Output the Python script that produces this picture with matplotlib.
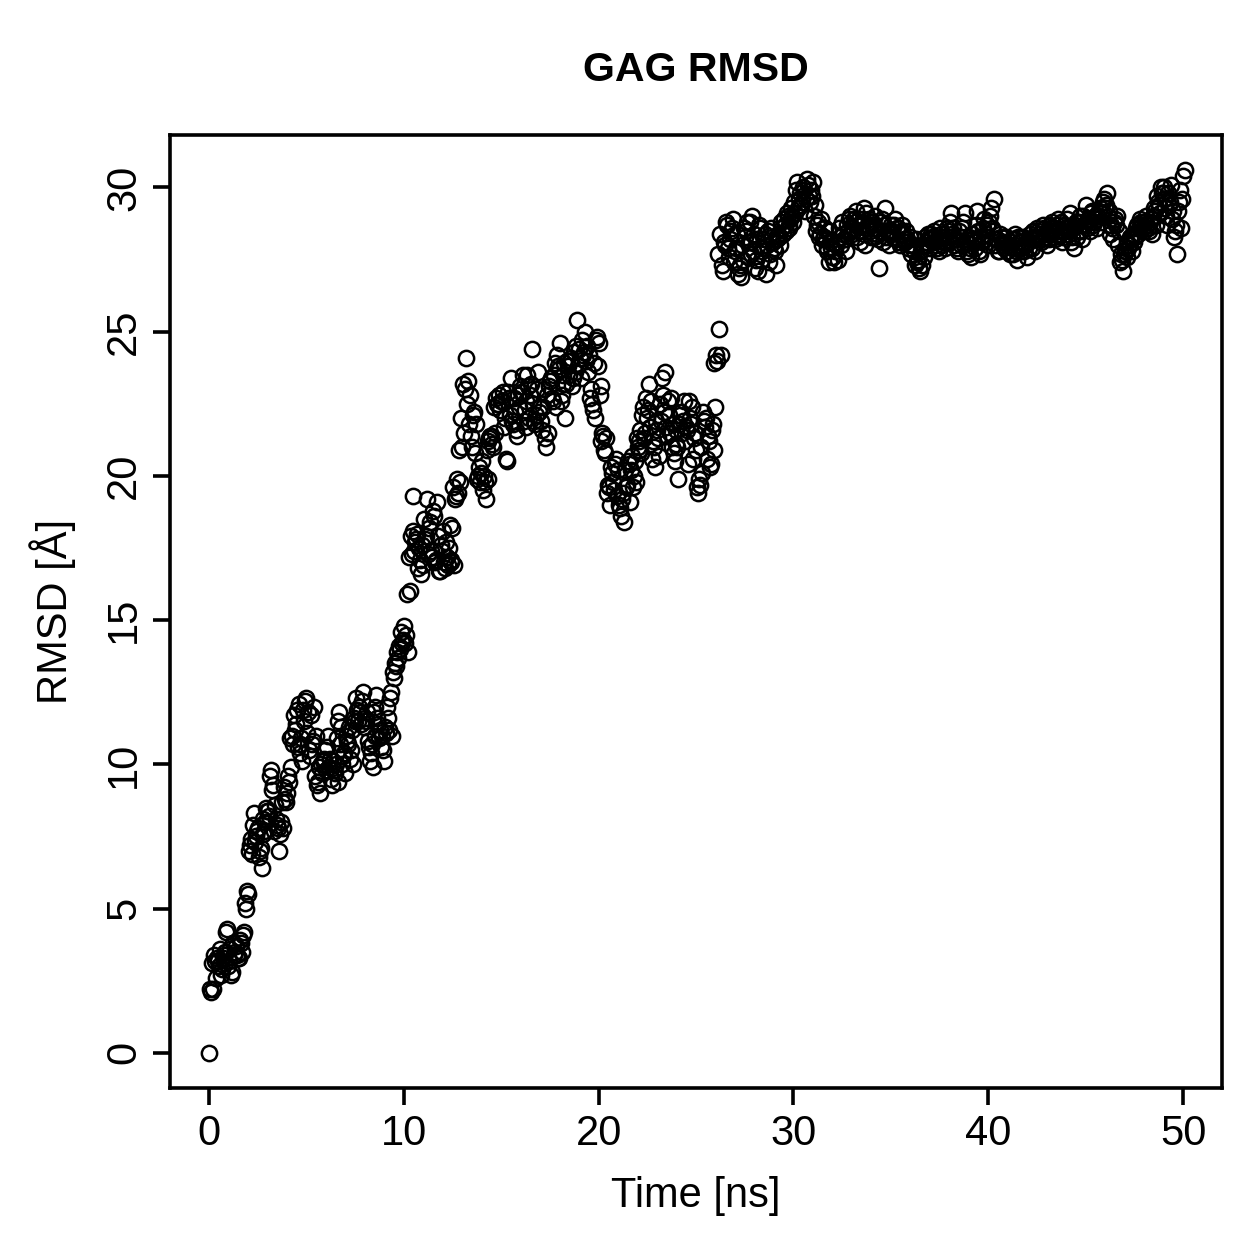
import numpy as np
import matplotlib.pyplot as plt

plt.rc('font', family='Liberation Sans', size=30)

# RMSD values at t = 0.0, 0.1, 0.2 ... 50.0 ns
rmsd_a = [
    0.0,
    2.1, 2.2, 3.2, 3.3, 3.0, 2.7, 3.3, 3.5, 4.2, 3.0,
    3.6, 2.8, 3.4, 3.7, 3.3, 3.9, 3.5, 4.2, 5.0, 5.5,
    7.2, 6.9, 8.3, 7.5, 7.8, 7.0, 6.4, 7.6, 8.0, 8.4,
    8.2, 9.8, 9.3, 8.6, 7.9, 7.0, 8.0, 7.8, 8.8, 9.0,
    9.4, 9.9, 10.7, 11.2, 11.9, 12.1, 10.7, 10.1, 11.5, 12.3,
    11.8, 10.3, 10.7, 12.0, 11.0, 9.4, 9.0, 9.7, 10.2, 9.8,
    11.0, 10.2, 9.3, 9.8, 10.0, 9.4, 11.8, 11.3, 10.3, 9.7,
    10.8, 11.3, 10.5, 10.0, 11.5, 11.9, 12.0, 11.4, 12.5, 11.6,
    11.8, 10.6, 10.4, 9.9, 11.0, 12.4, 11.4, 11.2, 11.0, 10.1,
    11.1, 11.6, 12.3, 11.0, 13.0, 13.4, 13.7, 14.0, 14.2, 14.8,
    14.5, 13.9, 16.0, 17.3, 19.3, 17.7, 18.0, 17.5, 16.6, 16.9,
    17.8, 19.2, 18.2, 17.4, 18.8, 17.0, 19.1, 16.7, 17.6, 18.1,
    16.8, 17.2, 17.5, 17.0, 18.2, 16.9, 19.3, 19.4, 19.8, 21.0,
    21.5, 24.1, 23.3, 22.8, 21.0, 22.2, 21.8, 20.0, 19.8, 20.5,
    20.0, 19.2, 19.9, 21.3, 21.4, 21.0, 21.5, 22.5, 22.8, 22.6,
    22.9, 22.0, 20.5, 22.7, 23.4, 21.8, 22.2, 21.4, 22.4, 22.9,
    23.5, 22.3, 21.7, 23.1, 22.8, 24.4, 21.9, 22.1, 23.6, 22.4,
    21.6, 23.0, 21.0, 21.5, 23.3, 22.7, 23.5, 22.4, 23.8, 24.6,
    22.8, 23.2, 22.0, 24.0, 23.5, 24.1, 23.4, 23.6, 25.4, 24.4,
    23.4, 24.2, 25.0, 24.5, 24.2, 23.0, 22.3, 22.0, 24.8, 24.6,
    23.1, 21.5, 20.9, 21.3, 19.7, 19.0, 20.1, 19.5, 20.6, 20.2,
    18.9, 19.2, 18.4, 19.6, 20.5, 19.1, 20.7, 20.0, 19.8, 21.0,
    21.2, 20.8, 22.4, 21.5, 22.0, 23.2, 22.6, 21.2, 20.3, 21.6,
    20.7, 21.9, 22.8, 23.6, 21.4, 22.1, 22.7, 21.8, 20.5, 21.1,
    19.9, 22.1, 21.5, 22.6, 21.7, 20.4, 22.0, 22.4, 21.3, 20.9,
    19.4, 19.7, 20.1, 21.9, 22.0, 21.4, 20.3, 21.6, 20.9, 22.4,
    24.0, 25.1, 24.2, 27.1, 28.0, 28.7, 27.6, 28.5, 28.9, 27.8,
    28.4, 27.2, 26.9, 27.5, 28.3, 28.8, 28.1, 27.7, 29.0, 28.4,
    27.5, 27.1, 28.6, 27.8, 28.2, 27.0, 28.5, 27.7, 28.3, 27.9,
    27.3, 28.4, 28.0, 28.6, 28.9, 28.5, 29.0, 28.7, 29.3, 28.8,
    29.1, 30.2, 29.6, 29.4, 30.0, 29.2, 30.3, 29.7, 29.9, 30.2,
    29.4, 28.7, 28.3, 28.9, 28.2, 28.6, 27.9, 28.5, 28.1, 27.6,
    27.4, 28.0, 27.5, 28.3, 28.8, 28.2, 27.8, 28.5, 29.0, 28.4,
    28.9, 29.2, 28.5, 28.1, 28.7, 29.3, 28.0, 28.6, 28.9, 28.3,
    28.6, 29.0, 28.4, 27.2, 28.8, 28.1, 29.3, 28.5, 28.0, 28.7,
    28.3, 28.9, 28.6, 28.1, 28.4, 28.7, 28.2, 28.5, 27.9, 28.3,
    28.0, 27.8, 28.2, 27.5, 27.1, 27.3, 27.6, 28.1, 28.4, 27.9,
    28.3, 28.5, 28.0, 28.2, 27.8, 28.4, 28.1, 27.9, 28.6, 28.3,
    29.1, 28.6, 28.2, 27.9, 28.5, 28.0, 28.8, 29.1, 27.8, 28.3,
    27.6, 28.2, 27.9, 29.2, 28.5, 27.7, 28.1, 28.9, 28.4, 28.0,
    29.0, 28.6, 29.6, 28.2, 27.8, 28.4, 28.1, 27.9, 28.3, 28.0,
    27.7, 28.2, 27.9, 28.4, 27.5, 28.1, 27.8, 28.3, 28.0, 27.6,
    27.9, 28.2, 28.5, 27.8, 28.6, 28.3, 28.1, 28.7, 28.4, 28.0,
    28.2, 28.6, 28.8, 28.3, 28.5, 28.9, 28.4, 28.1, 28.7, 28.4,
    28.6, 29.1, 28.3, 27.9, 28.8, 28.5, 29.0, 28.2, 28.7, 29.4,
    28.9, 28.5, 29.1, 28.7, 29.0, 28.6, 29.2, 28.8, 29.5, 29.3,
    29.8, 29.2, 28.7, 28.2, 28.9, 29.0, 28.5, 27.7, 27.1, 27.8,
    27.6, 27.9, 28.3, 27.8, 28.1, 28.6, 28.4, 28.9, 28.7, 28.5,
    29.0, 28.6, 28.8, 28.4, 29.3, 28.7, 29.5, 29.1, 29.8, 30.0,
    29.6, 28.7, 29.4, 30.1, 29.2, 28.5, 27.7, 29.5, 28.6, 30.4,
    30.6,
]

# RMSD values at t = 0.05, 0.15, 0.25 ... 49.95 ns
rmsd_b = [
    2.2, 3.1, 3.4, 2.6, 3.2, 3.6, 2.9, 3.4, 3.1, 4.3,
    3.2, 2.7, 3.8, 3.5, 3.4, 3.3, 3.8, 4.1, 5.2, 5.6,
    7.0, 7.4, 7.9, 7.3, 7.7, 6.8, 7.1, 8.1, 7.7, 8.5,
    8.4, 9.6, 9.1, 7.7, 8.1, 7.8, 7.6, 8.7, 9.2, 8.7,
    9.6, 10.9, 11.0, 11.7, 11.4, 10.6, 10.4, 10.9, 11.9, 12.2,
    11.1, 10.5, 11.7, 10.8, 9.6, 9.3, 9.9, 10.0, 10.1, 10.5,
    10.6, 9.9, 9.5, 10.1, 9.7, 10.9, 11.5, 10.7, 10.0, 10.4,
    11.0, 10.7, 10.2, 11.2, 11.6, 12.3, 11.5, 11.8, 12.2, 11.3,
    11.5, 10.8, 10.1, 10.7, 11.8, 12.0, 11.6, 10.9, 10.6, 10.5,
    11.3, 12.0, 11.2, 12.5, 13.2, 13.5, 13.9, 14.1, 14.6, 14.3,
    14.2, 15.9, 17.2, 17.9, 18.1, 17.4, 17.8, 16.8, 17.1, 17.6,
    18.5, 17.9, 17.3, 18.4, 17.2, 18.6, 17.1, 17.9, 16.7, 17.4,
    17.0, 17.7, 16.9, 18.3, 17.1, 19.6, 19.2, 19.9, 20.9, 22.0,
    23.2, 23.0, 22.5, 21.8, 21.4, 22.1, 20.8, 19.9, 20.3, 20.1,
    19.5, 19.8, 20.9, 21.2, 21.4, 21.1, 22.4, 22.7, 22.5, 22.3,
    22.6, 21.7, 20.6, 22.9, 22.1, 21.9, 22.7, 21.6, 22.8, 23.1,
    22.9, 21.9, 22.6, 23.5, 22.0, 23.2, 22.5, 21.8, 23.0, 22.2,
    21.9, 22.4, 21.3, 22.8, 23.1, 23.4, 22.6, 23.9, 24.2, 23.7,
    22.6, 23.5, 23.9, 23.2, 23.8, 24.0, 23.1, 24.3, 24.5, 23.8,
    24.1, 24.7, 24.3, 24.0, 23.6, 22.7, 22.5, 23.9, 24.7, 23.8,
    22.8, 21.2, 21.4, 20.8, 19.4, 19.6, 20.3, 19.8, 20.4, 19.3,
    19.0, 18.6, 19.4, 20.2, 19.7, 20.4, 20.2, 19.6, 20.5, 21.3,
    20.9, 21.6, 22.1, 21.3, 22.7, 22.3, 21.7, 20.6, 21.0, 21.9,
    21.3, 22.5, 23.4, 22.2, 21.7, 22.6, 21.5, 21.0, 20.8, 21.6,
    21.0, 21.8, 22.2, 21.9, 21.2, 21.6, 22.6, 21.8, 20.6, 21.5,
    19.6, 19.9, 21.0, 22.2, 21.7, 20.6, 21.2, 20.4, 21.8, 23.9,
    24.2, 27.7, 28.4, 27.3, 28.1, 28.8, 27.9, 28.2, 28.6, 27.4,
    27.9, 27.0, 27.3, 28.0, 28.6, 28.5, 27.6, 28.8, 28.1, 27.8,
    27.2, 28.2, 28.7, 27.5, 27.9, 28.4, 28.0, 27.4, 28.6, 28.1,
    27.8, 28.2, 28.3, 28.8, 28.4, 28.7, 29.1, 28.6, 28.9, 29.0,
    29.5, 29.9, 29.3, 29.8, 29.5, 29.9, 29.6, 30.1, 29.5, 29.7,
    29.0, 28.5, 28.8, 28.4, 28.0, 28.3, 28.2, 27.8, 27.4, 27.9,
    27.6, 27.8, 28.1, 28.6, 28.0, 28.4, 28.2, 28.7, 28.9, 28.5,
    28.6, 28.8, 28.3, 28.9, 28.5, 28.9, 28.4, 29.1, 28.7, 28.5,
    28.8, 28.3, 28.6, 28.2, 28.5, 28.9, 28.7, 28.3, 28.5, 28.4,
    28.5, 28.7, 28.2, 28.6, 28.0, 28.5, 28.4, 28.1, 28.2, 28.0,
    27.7, 28.0, 27.3, 27.4, 27.2, 27.8, 28.0, 28.3, 28.0, 28.2,
    28.4, 28.1, 28.3, 27.9, 28.2, 28.6, 28.0, 28.3, 28.1, 28.5,
    28.8, 28.4, 28.0, 28.2, 27.8, 28.3, 28.6, 28.0, 28.1, 27.7,
    27.9, 28.4, 28.1, 28.7, 28.2, 27.8, 28.3, 28.6, 28.2, 28.7,
    28.8, 29.3, 28.5, 28.0, 28.2, 27.8, 28.3, 28.0, 28.1, 27.8,
    28.0, 28.1, 27.7, 28.2, 27.8, 28.3, 27.9, 28.1, 27.8, 28.0,
    28.1, 28.4, 27.9, 28.3, 28.2, 28.5, 28.4, 28.2, 28.6, 28.3,
    28.4, 28.7, 28.5, 28.6, 28.2, 28.7, 28.5, 28.8, 28.3, 28.6,
    28.9, 28.5, 28.1, 28.6, 28.7, 28.3, 28.8, 28.5, 29.0, 28.7,
    28.6, 28.9, 28.8, 29.2, 28.8, 28.9, 29.0, 29.3, 29.1, 29.6,
    29.4, 29.0, 28.4, 28.6, 28.8, 28.7, 28.0, 27.4, 27.5, 27.7,
    27.8, 28.1, 28.0, 28.2, 28.4, 28.3, 28.7, 28.6, 28.8, 28.6,
    28.8, 28.7, 28.5, 28.9, 29.0, 29.2, 29.7, 29.4, 30.0, 29.8,
    29.3, 29.0, 29.8, 29.5, 28.9, 28.3, 28.7, 29.2, 29.9, 29.6,
]

time_a = np.arange(len(rmsd_a)) * 0.1
time_b = np.arange(len(rmsd_b)) * 0.1 + 0.05
time = np.concatenate([time_a, time_b])
rmsd = np.concatenate([rmsd_a, rmsd_b])

xticks = [0, 10, 20, 30, 40, 50]
yticks = [0, 5, 10, 15, 20, 25, 30]

fig = plt.figure(figsize=(12.59, 12.59), dpi=100)
ax = fig.add_axes([0.135, 0.1358, 0.8356, 0.757])
ax.plot(time, rmsd, 'o', mfc='none', mec='black', ms=11, mew=1.8)

ax.set_xlim(-2, 52)
ax.set_ylim(-1.22, 31.82)
ax.set_xticks(xticks)
ax.set_yticks(yticks)
ax.set_yticklabels([str(v) for v in yticks], rotation=90, va='center')
ax.tick_params(direction='out', length=12.5, width=2.6, pad=6)
for s in ax.spines.values():
    s.set_linewidth(2.6)

ax.set_xlabel('Time [ns]', labelpad=16)
ax.set_ylabel('RMSD [Å]', labelpad=20)
ax.set_title('GAG RMSD', fontweight='bold', fontsize=29.6, pad=39)

fig.savefig('out.png', dpi=100)
